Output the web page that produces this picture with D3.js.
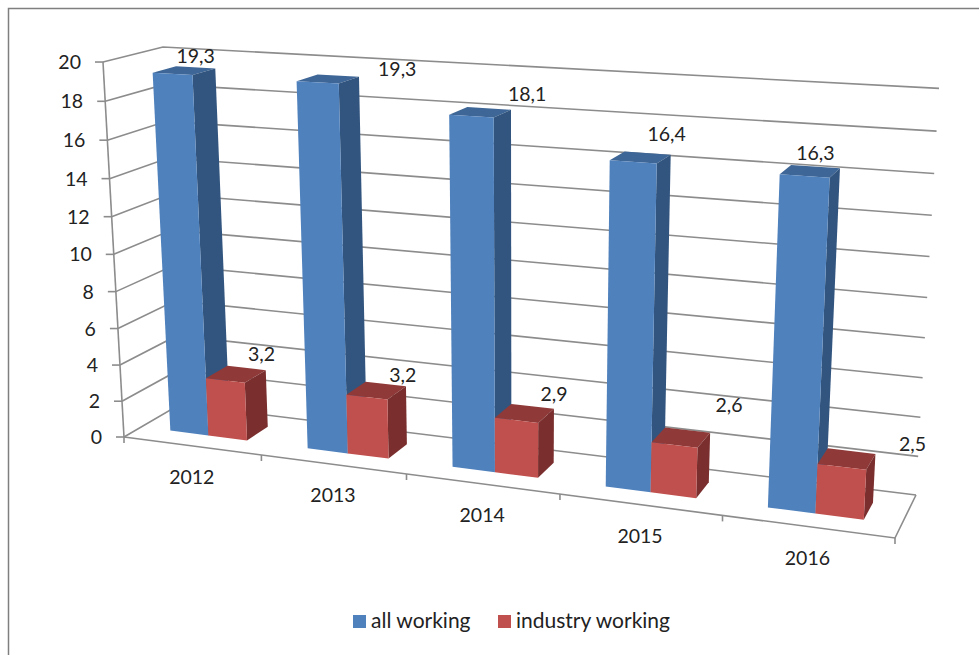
<!DOCTYPE html>
<html>
<head>
<meta charset="utf-8">
<script src="https://d3js.org/d3.v7.min.js"></script>
<style>
  html, body { margin: 0; padding: 0; background: #fff; }
  svg { display: block; }
  text { font-family: Lato, "Open Sans", sans-serif; fill: #222; }
</style>
</head>
<body>
<script>
// chart data
var years = ["2012", "2013", "2014", "2015", "2016"];
var allWorking = [19.3, 19.3, 18.1, 16.4, 16.3];
var industryWorking = [3.2, 3.2, 2.9, 2.6, 2.5];
var seriesNames = ["all working", "industry working"];

var width = 979, height = 655;

// face colours per series: front, top, side
var colors = [
  {front: "#4f81bd", top: "#3e6696", side: "#32557f"},
  {front: "#c0504d", top: "#8f3a38", side: "#7a2f2e"}
];

// where excel left each data label, relative to the top of its bar
var allNudge = [[0, -11], [59, -7], [38, -14], [19, -19], [0, -13.5]];
var industryNudge = [[15, -14], [17, -9], [21.5, -12], [41.5, -25], [61, -7]];

var svg = d3.select("body").append("svg")
    .attr("width", width)
    .attr("height", height);

// outer frame, only top and left are in the picture
svg.append("path")
    .attr("d", "M8.5,655V8.5H979")
    .attr("fill", "none")
    .attr("stroke", "#7f7f7f")
    .attr("stroke-width", 1.5);

// scales go from data to the unit box, project() then takes the box to the screen
var x = d3.scaleBand().domain(years).range([0, 1]).paddingInner(0.435).paddingOuter(0.2175);
var xSeries = d3.scaleBand().domain(seriesNames).range([0, x.bandwidth()]);
var y = d3.scaleLinear().domain([0, 20]).range([0, 1]);
var depth = d3.scaleLinear().domain([0, 1]).range([0.3, 0.7]); // bar front and back

// perspective camera fitted to the corners of the chart box
function project(u, v, w) {
  var d = 1 - 0.1325 * u - 0.0504 * v + 0.05147 * w;
  return [
    (124 + 652.4 * u - 26.2 * v + 65.37 * w) / d,
    (437 + 29.7 * u - 378.1 * v - 11.82 * w) / d
  ];
}

var line = d3.line();

function gridLine(points) {
  return line(points.map(function(p) { return project(p[0], p[1], p[2]); }));
}

// walls and floor
var grid = svg.append("g")
    .attr("fill", "none")
    .attr("stroke", "#8c8c8c")
    .attr("stroke-width", 1.6);

y.ticks(10).forEach(function(t) {
  grid.append("path").attr("d", gridLine([[0, y(t), 0], [0, y(t), 1], [1, y(t), 1]]));
  var p = project(0, y(t), 0);
  grid.append("path").attr("d", line([[p[0] - 8, p[1]], p]));
  svg.append("text")
      .attr("x", p[0] - 22)
      .attr("y", p[1] + 7)
      .attr("text-anchor", "end")
      .attr("font-size", 19.5)
      .text(t);
});

grid.append("path").attr("d", gridLine([[0, 0, 0], [0, 1, 0]]));
grid.append("path").attr("d", gridLine([[0, 0, 0], [1, 0, 0], [1, 0, 1]]));

// ticks under the floor edge, between the years
d3.range(years.length + 1).forEach(function(i) {
  var p = project(i / years.length, 0, 0);
  grid.append("path").attr("d", line([p, [p[0], p[1] + 6]]));
});

// bars
function drawBar(year, name, value, c) {
  var u0 = x(year) + xSeries(name), u1 = u0 + xSeries.bandwidth();
  var v = y(value), w0 = depth(0), w1 = depth(1);
  var g = svg.append("g").attr("class", "bar");
  g.append("path").attr("fill", c.top)
      .attr("d", gridLine([[u0, v, w0], [u1, v, w0], [u1, v, w1], [u0, v, w1]]) + "Z");
  g.append("path").attr("fill", c.side)
      .attr("d", gridLine([[u1, 0, w0], [u1, v, w0], [u1, v, w1], [u1, 0, w1]]) + "Z");
  g.append("path").attr("fill", c.front)
      .attr("d", gridLine([[u0, 0, w0], [u1, 0, w0], [u1, v, w0], [u0, v, w0]]) + "Z");
}

function drawLabel(year, name, value, nudge) {
  var u = x(year) + xSeries(name) + xSeries.bandwidth() / 2;
  var p = project(u, y(value), depth(1));
  svg.append("text")
      .attr("x", p[0] + nudge[0])
      .attr("y", p[1] + nudge[1] + 7)
      .attr("text-anchor", "middle")
      .attr("font-size", 19.5)
      .text(String(value).replace(".", ","));
}

years.forEach(function(year, i) {
  drawBar(year, seriesNames[0], allWorking[i], colors[0]);
  drawBar(year, seriesNames[1], industryWorking[i], colors[1]);
});

// labels go last, some sit over the bars
years.forEach(function(year, i) {
  drawLabel(year, seriesNames[0], allWorking[i], allNudge[i]);
  drawLabel(year, seriesNames[1], industryWorking[i], industryNudge[i]);

  var p = project(x(year) + x.bandwidth() / 2, 0, 0);
  svg.append("text")
      .attr("x", p[0])
      .attr("y", p[1] + 38)
      .attr("text-anchor", "middle")
      .attr("font-size", 19.5)
      .text(year);
});

// legend
var legendX = [353, 498];
var legend = svg.selectAll(".legend")
    .data(seriesNames)
    .enter().append("g")
    .attr("class", "legend")
    .attr("transform", function(d, i) { return "translate(" + legendX[i] + ",615)"; });

legend.append("rect")
    .attr("width", 13)
    .attr("height", 13)
    .attr("fill", function(d, i) { return colors[i].front; });

legend.append("text")
    .attr("x", 18)
    .attr("y", 12.5)
    .attr("font-size", 21)
    .text(function(d) { return d; });
</script>
</body>
</html>
